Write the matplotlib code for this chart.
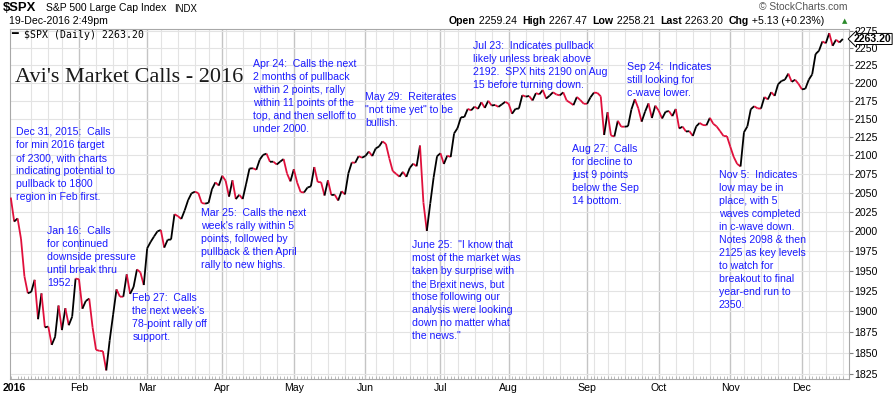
import matplotlib
matplotlib.use("Agg")
import matplotlib.pyplot as plt
from matplotlib.collections import LineCollection
from matplotlib.ticker import FixedLocator, FixedFormatter, NullLocator
import pandas as pd

plt.rcParams['font.family'] = ['Liberation Sans', 'DejaVu Sans']

W, H = 895, 398

# $SPX daily closes, 31-Dec-2015 .. 19-Dec-2016
closes_dec15 = [2043.94]
closes_jan = [2012.66, 2016.71, 1990.26, 1943.09, 1922.03, 1923.67, 1938.68, 1890.28, 1921.84, 1880.33,
              1881.33, 1859.33, 1868.99, 1906.90, 1877.08, 1903.63, 1882.95, 1893.36, 1940.24]
closes_feb = [1939.38, 1903.03, 1912.53, 1915.45, 1880.05, 1853.44, 1852.21, 1851.86, 1829.08, 1864.78,
              1895.58, 1926.82, 1917.83, 1917.78, 1945.50, 1921.27, 1929.80, 1951.70, 1948.05, 1932.23]
closes_mar = [1978.35, 1986.45, 1993.40, 1999.99, 2001.76, 1979.26, 1989.26, 1989.57, 2022.19, 2019.64,
              2015.93, 2027.22, 2040.59, 2049.58, 2051.60, 2049.80, 2036.71, 2035.94, 2037.05, 2055.01,
              2063.95, 2059.74]
closes_apr = [2072.78, 2066.13, 2045.17, 2066.66, 2041.91, 2047.60, 2041.99, 2061.72, 2082.42, 2082.78,
              2080.73, 2094.34, 2100.80, 2102.40, 2091.48, 2091.58, 2087.79, 2091.70, 2095.15, 2075.81,
              2065.30]
closes_may = [2081.43, 2063.37, 2051.12, 2050.63, 2057.14, 2058.69, 2084.39, 2064.46, 2064.11, 2046.61,
              2066.66, 2047.21, 2047.63, 2040.04, 2052.32, 2048.04, 2076.06, 2090.54, 2090.10, 2099.06,
              2096.95]
closes_jun = [2099.33, 2105.26, 2099.13, 2109.41, 2112.13, 2119.12, 2115.48, 2096.07, 2079.06, 2075.32,
              2071.50, 2077.99, 2071.22, 2083.25, 2088.90, 2085.45, 2113.32, 2037.41, 2000.54, 2036.09,
              2070.77, 2098.86]
closes_jul = [2102.95, 2088.55, 2099.73, 2097.90, 2129.90, 2137.16, 2152.14, 2152.43, 2163.75, 2161.74,
              2166.89, 2163.78, 2173.02, 2165.17, 2175.03, 2168.48, 2169.18, 2166.58, 2170.06, 2173.60]
closes_aug = [2170.84, 2157.03, 2163.79, 2164.25, 2182.87, 2180.89, 2181.74, 2175.49, 2185.79, 2184.05,
              2190.15, 2178.15, 2182.22, 2187.02, 2183.87, 2182.64, 2186.90, 2175.44, 2172.47, 2169.04,
              2180.38, 2176.12, 2170.95]
closes_sep = [2170.86, 2179.98, 2186.48, 2186.16, 2181.30, 2127.81, 2159.04, 2127.02, 2125.77, 2147.26,
              2139.16, 2139.12, 2139.76, 2163.12, 2177.18, 2164.69, 2146.10, 2159.93, 2171.37, 2151.13,
              2168.27]
closes_oct = [2161.20, 2150.49, 2159.73, 2160.77, 2153.74, 2163.66, 2136.73, 2139.18, 2132.55, 2132.98,
              2126.50, 2139.60, 2144.29, 2141.34, 2141.16, 2151.33, 2143.16, 2139.43, 2133.04, 2126.41,
              2126.15]
closes_nov = [2111.72, 2097.94, 2088.66, 2085.18, 2131.52, 2139.56, 2163.26, 2167.48, 2164.45, 2164.20,
              2180.39, 2176.94, 2187.12, 2181.90, 2198.18, 2202.94, 2204.72, 2213.35, 2201.72, 2204.66,
              2198.81]
closes_dec = [2191.08, 2191.95, 2204.71, 2212.23, 2241.35, 2246.19, 2259.53, 2256.96, 2271.72, 2253.28,
              2262.03, 2258.07, 2263.20]

holidays = ["2016-01-01", "2016-01-18", "2016-02-15", "2016-03-25", "2016-05-30",
            "2016-07-04", "2016-09-05", "2016-11-24"]
month_labels = ["2016", "Feb", "Mar", "Apr", "May", "Jun", "Jul", "Aug", "Sep", "Oct", "Nov", "Dec"]
y_ticks = [1825, 1850, 1875, 1900, 1925, 1950, 1975, 2000, 2025, 2050, 2075, 2100,
           2125, 2150, 2175, 2200, 2225, 2250, 2275]

last_value = 2263.20
header_quote = [("Open", "bold"), (" 2259.24  ", "normal"), ("High", "bold"), (" 2267.47  ", "normal"),
                ("Low", "bold"), (" 2258.21  ", "normal"), ("Last", "bold"), (" 2263.20  ", "normal"),
                ("Chg", "bold"), (" +5.13 (+0.23%)", "normal")]

# text, left px, top px
calls = [
    ("Dec 31, 2015:  Calls\nfor min 2016 target\nof 2300, with charts\nindicating potential to\n"
     "pullback to 1800\nregion in Feb first.", 16.5, 127),
    ("Jan 16:  Calls\nfor continued\ndownside pressure\nuntil break thru\n1952.", 47.5, 226),
    ("Feb 27:  Calls\nthe next week's\n78-point rally off\nsupport.", 132.5, 293),
    ("Mar 25:  Calls the next\nweek's rally within 5\npoints, followed by\npullback & then April\n"
     "rally to new highs.", 201.5, 208),
    ("Apr 24:  Calls the next\n2 months of pullback\nwithin 2 points, rally\nwithin 11 points of the\n"
     "top, and then selloff to\nunder 2000.", 253, 59),
    ("May 29:  Reiterates\n\"not time yet\" to be\nbullish.", 365, 92),
    ("June 25:  \"I know that\nmost of the market was\ntaken by surprise with\nthe Brexit news, but\n"
     "those following our\nanalysis were looking\ndown no matter what\nthe news.\"", 412.5, 240),
    ("Jul 23:  Indicates pullback\nlikely unless break above\n2192.  SPX hits 2190 on Aug\n"
     "15 before turning down.", 473, 41),
    ("Aug 27:  Calls\nfor decline to\njust 9 points\nbelow the Sep\n14 bottom.", 572.5, 144),
    ("Sep 24:  Indicates\nstill looking for\nc-wave lower.", 627.5, 62),
    ("Nov 5:  Indicates\nlow may be in\nplace, with 5\nwaves completed\nin c-wave down.\n"
     "Notes 2098 & then\n2125 as key levels\nto watch for\nbreakout to final\nyear-end run to\n2350.", 719, 170),
]

closes = (closes_dec15 + closes_jan + closes_feb + closes_mar + closes_apr + closes_may + closes_jun
          + closes_jul + closes_aug + closes_sep + closes_oct + closes_nov + closes_dec)
dates = pd.bdate_range("2015-12-31", "2016-12-19", freq="C", holidays=holidays)
assert len(dates) == len(closes)
idx = list(range(len(closes)))

month_starts = [i for i in range(1, len(dates)) if dates[i].month != dates[i - 1].month]
week_starts = [i for i in range(1, len(dates)) if dates[i].isocalendar()[1] != dates[i - 1].isocalendar()[1]]
week_starts = [w for w in week_starts if not any(0 <= m - w <= 3 for m in month_starts)]


def px(x, y):
    return x / W, 1 - y / H


fig = plt.figure(figsize=(W / 100, H / 100), dpi=100)
ax_l, ax_r, ax_t, ax_b = 10, 849, 29.5, 379
ax = fig.add_axes([ax_l / W, 1 - ax_b / H, (ax_r - ax_l) / W, (ax_b - ax_t) / H])
ax.set_yscale('log')
ax.set_xlim(-0.23, 245.8)
ax.set_ylim(1819, 2277)

# grid
for w in week_starts:
    ax.axvline(w, color='#e3e3e3', lw=0.8, zorder=0)
for m in month_starts[1:]:
    ax.axvline(m, color='#c4c4c4', lw=1.0, zorder=0)
for v in y_ticks:
    ax.axhline(v, color='#e3e3e3', lw=0.8, zorder=0)

# price line, red on down days
segs = [[(i - 1, closes[i - 1]), (i, closes[i])] for i in idx[1:]]
cols = ['#e0103c' if closes[i] < closes[i - 1] else 'black' for i in idx[1:]]
ax.add_collection(LineCollection(segs, colors=cols, linewidths=1.3, zorder=3))

# axes styling
for s in ax.spines.values():
    s.set_color('#a8a8a8')
    s.set_linewidth(0.8)
ax.spines['bottom'].set_linestyle((0, (1, 1)))
ax.yaxis.tick_right()
ax.yaxis.set_major_locator(FixedLocator(y_ticks))
ax.yaxis.set_major_formatter(FixedFormatter([str(v) for v in y_ticks]))
ax.yaxis.set_minor_locator(NullLocator())
ax.tick_params(axis='y', which='major', length=3, width=0.8, color='#808080', pad=1, labelsize=7.6)
ax.xaxis.set_major_locator(FixedLocator(month_starts))
ax.xaxis.set_major_formatter(FixedFormatter(month_labels))
ax.xaxis.set_minor_locator(FixedLocator(idx))
ax.tick_params(axis='x', which='major', length=0, pad=3, labelsize=7.6)
ax.tick_params(axis='x', which='minor', length=2, width=0.5, color='#a0a0a0', direction='in')
ax.get_xticklabels()[0].set_fontweight('bold')

# last value marker
ax.annotate(f"{last_value:.2f}", xy=(1, last_value), xycoords=('axes fraction', 'data'),
            xytext=(3.5, 0), textcoords='offset points', ha='left', va='center',
            fontsize=7.6, fontweight='bold', annotation_clip=False,
            bbox=dict(boxstyle='larrow,pad=0.05', fc='white', ec='black', lw=0.7))

# header
fig.text(*px(3, 8), "$SPX", fontsize=9.4, fontweight='bold', va='center')
fig.text(*px(46.5, 8), "S&P 500 Large Cap Index", fontsize=7.5, va='center')
fig.text(*px(174, 8.5), "INDX", fontsize=6.9, va='center')
fig.text(*px(9, 21.5), "19-Dec-2016 2:49pm", fontsize=7.6, va='center')
fig.text(*px(848, 7.5), "\u00a9 StockCharts.com", fontsize=7.4, va='center', ha='right', color='#555555')

renderer = fig.canvas.get_renderer()
x0 = 449
for s, wgt in header_quote:
    t = fig.text(*px(x0, 21.5), s, fontsize=7.6, fontweight=wgt, va='center')
    bb = t.get_window_extent(renderer)
    x0 = bb.x1
fig.text(*px(845, 21), "\u25b2", fontsize=5, color='#2a8a2a', va='center', ha='center', family='DejaVu Sans')

# legend line
fig.text(*px(11.5, 34.5), "\u2501", fontsize=8, fontweight='bold', va='center', family='DejaVu Sans Mono')
fig.text(*px(24, 34.5), "$SPX (Daily) 2263.20", fontsize=7.1, va='center', family='DejaVu Sans Mono')

fig.text(*px(15, 77), "Avi's Market Calls - 2016", fontsize=16, va='center',
         family=['Liberation Serif', 'DejaVu Serif'], color='#1a1a1a')

for txt, x, y in calls:
    fig.text(*px(x, y), txt, fontsize=7.6, va='top', ha='left', color='#1a1aff', linespacing=1.38)

fig.savefig("out.png", dpi=100)
